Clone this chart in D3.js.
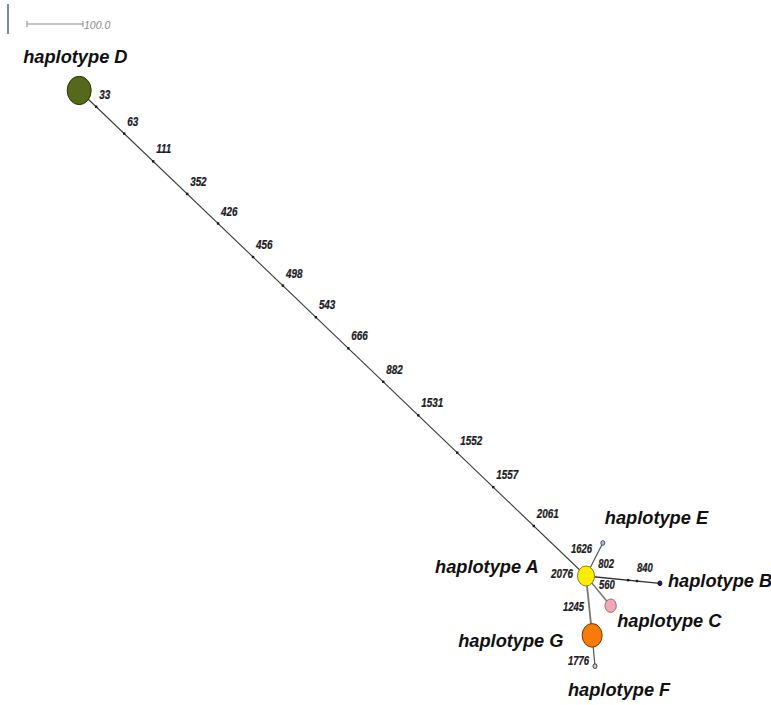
<!DOCTYPE html>
<html>
<head>
<meta charset="utf-8">
<script src="https://cdn.jsdelivr.net/npm/d3@7"></script>
<style>
  html, body { margin: 0; padding: 0; background: #fff; }
  svg { display: block; }
</style>
</head>
<body>
<svg id="net" width="771" height="705"></svg>
<script>
// Haplotypes and their layout coordinates (network units; scale bar = 100)
const haplotypes = ["A", "B", "C", "D", "E", "F", "G"];
const nodeX      = [0, 132, 44, -905, 30, 16, 11];
const nodeY      = [0, 13, 53, -867, -59, 161, 106];
const nodeCount  = [18, 1, 8, 36, 1, 1, 25];

// Links between haplotypes
const linkFrom = ["D", "A", "A", "A", "A", "G"];
const linkTo   = ["A", "E", "B", "C", "G", "F"];

// Mutated sites along the long D–A branch, with fractional position from D
const sitesDA   = ["33", "63", "111", "352", "426", "456", "498", "543", "666", "882", "1531", "1552", "1557", "2061"];
const sitesDAAt = [0.0335, 0.0888, 0.146, 0.213, 0.274, 0.343, 0.402, 0.467, 0.531, 0.600, 0.669, 0.746, 0.817, 0.897];

// Remaining mutated sites, the link they sit on and their fractional position
const sitesOther     = ["2076", "1626", "802", "840", "560", "1245", "1776"];
const sitesOtherLink = ["D-A", "A-E", "A-B", "A-B", "A-C", "A-G", "G-F"];
const sitesOtherAt   = [0.99, 0.5, 0.57, 0.69, 0.5, 0.5, 0.5];

// Scale bar length
const scaleBarValue = 100.0;

// ---- styling ----
const fillOf = { A: "#fbec00", B: "#2e1c5c", C: "#f4a7b6", D: "#56691a", E: "#a9bde3", F: "#d0d0d0", G: "#f77b05" };
const strokeOf = { A: "#8c8420", B: "#1b0f3a", C: "#9a6a72", D: "#2a3208", E: "#3f5582", F: "#3a3a3a", G: "#6e3a05" };
// label anchor (left, baseline) relative to node centre, in px
const nameOffset = { A: [-151, -3], B: [8, 3.5], C: [6.5, 21.5], D: [-56, -27.5], E: [2, -19], F: [-27, 30], G: [-134, 11.5] };
// site label anchors relative to the site position, in px
const otherSiteOffset = { "2076": [-30, 7], "1626": [-23.5, -6.5], "802": [-30, -12], "840": [0, -9], "560": [0.7, -1.8], "1245": [-26, 5], "1776": [-25.5, 14] };
const linkStyle = {
  "D-A": ["#3a3a3a", 1.1], "A-E": ["#555", 1.2], "A-B": ["#333", 1.3],
  "A-C": ["#777", 1.5], "A-G": ["#777", 1.8], "G-F": ["#555", 1.2]
};
const markedLinks = new Set(["D-A", "A-B"]);

const svg = d3.select("#net");

const x = d3.scaleLinear().domain([-1000, 300]).range([26, 754]);
const y = d3.scaleLinear().domain([-1000, 200]).range([16, 688]);
const r = d3.scaleSqrt().domain([0, 1]).range([0, 2]);
const aspect = 1.18;

const nodes = haplotypes.map((h, i) => ({ id: h, x: x(nodeX[i]), y: y(nodeY[i]), n: nodeCount[i] }));
const byId = Object.fromEntries(nodes.map(n => [n.id, n]));
const links = linkFrom.map((f, i) => ({ key: f + "-" + linkTo[i], s: byId[f], t: byId[linkTo[i]] }));
const linkByKey = Object.fromEntries(links.map(l => [l.key, l]));
const along = (l, t) => [l.s.x + (l.t.x - l.s.x) * t, l.s.y + (l.t.y - l.s.y) * t];

// left-edge marker and scale bar
svg.append("rect").attr("x", 7).attr("y", 4).attr("width", 2).attr("height", 30).attr("fill", "#7f8a9c");
const barLen = x(scaleBarValue) - x(0);
const bar = svg.append("g").attr("transform", "translate(27,24)").attr("stroke", "#8a8a8a").attr("stroke-width", 1);
bar.append("line").attr("x1", 0).attr("x2", barLen).attr("y1", 0).attr("y2", 0);
bar.append("line").attr("x1", 0).attr("x2", 0).attr("y1", -3).attr("y2", 3);
bar.append("line").attr("x1", barLen).attr("x2", barLen).attr("y1", -3).attr("y2", 3);
svg.append("text").attr("x", 27 + barLen + 1).attr("y", 29)
  .attr("font-family", "Liberation Sans, Arial, sans-serif").attr("font-style", "italic")
  .attr("font-size", 10.5).attr("fill", "#8a8a8a").text(scaleBarValue.toFixed(1));

// links
svg.append("g").selectAll("line").data(links).join("line")
  .attr("x1", d => d.s.x).attr("y1", d => d.s.y).attr("x2", d => d.t.x).attr("y2", d => d.t.y)
  .attr("stroke", d => linkStyle[d.key][0]).attr("stroke-width", d => linkStyle[d.key][1]);

// mutation sites
const sites = sitesDA.map((s, i) => ({ site: s, link: "D-A", t: sitesDAAt[i], off: [3, -8] }))
  .concat(sitesOther.map((s, i) => ({ site: s, link: sitesOtherLink[i], t: sitesOtherAt[i], off: otherSiteOffset[s] })));
sites.forEach(d => { [d.x, d.y] = along(linkByKey[d.link], d.t); });

svg.append("g").selectAll("rect").data(sites.filter(d => markedLinks.has(d.link))).join("rect")
  .attr("x", d => d.x - 1.2).attr("y", d => d.y - 1.2).attr("width", 2.4).attr("height", 2.4).attr("fill", "#1a1a1a");

const siteLabels = svg.append("g").selectAll("g").data(sites).join("g")
  .attr("transform", d => `translate(${d.x + d.off[0]},${d.y + d.off[1]}) scale(0.79,1)`);
siteLabels.append("text")
  .attr("font-family", "Liberation Sans, Arial, sans-serif").attr("font-weight", "bold").attr("font-style", "italic")
  .attr("font-size", d => d.link === "D-A" ? 12.5 : 12).attr("fill", "#1c1c24")
  .attr("stroke", "#1c1c24").attr("stroke-width", 0.25).text(d => d.site);

// haplotype nodes
svg.append("g").selectAll("ellipse").data(nodes).join("ellipse")
  .attr("cx", d => d.x).attr("cy", d => d.y)
  .attr("rx", d => r(d.n)).attr("ry", d => r(d.n) * aspect)
  .attr("fill", d => fillOf[d.id]).attr("stroke", d => strokeOf[d.id]).attr("stroke-width", 1);

// haplotype names
const names = svg.append("g").selectAll("g").data(nodes).join("g")
  .attr("transform", d => `translate(${d.x + nameOffset[d.id][0]},${d.y + nameOffset[d.id][1]}) scale(0.96,1)`);
names.append("text")
  .attr("font-family", "Liberation Sans, Arial, sans-serif").attr("font-weight", "bold").attr("font-style", "italic")
  .attr("font-size", 19).attr("fill", "#111").text(d => "haplotype " + d.id);
</script>
</body>
</html>
